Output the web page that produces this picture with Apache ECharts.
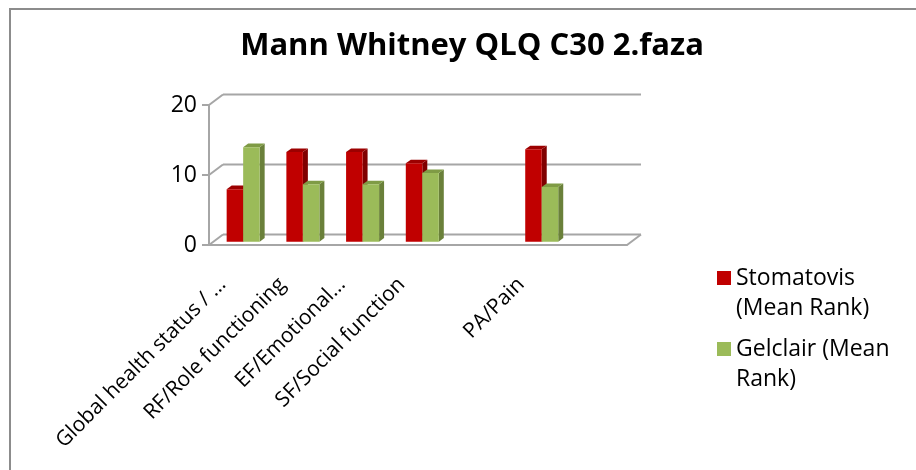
<!DOCTYPE html>
<html>
<head>
<meta charset="utf-8">
<script src="https://cdn.jsdelivr.net/npm/echarts@6/dist/echarts.min.js"></script>
<style>
  html, body { margin: 0; padding: 0; background: #fff; }
  #chart { width: 916px; height: 470px; }
</style>
</head>
<body>
<div id="chart"></div>
<script>
// Categories (two of them are empty slots on the axis)
var categories = [
    'Global health status / …',
    'RF/Role functioning',
    'EF/Emotional…',
    'SF/Social function',
    '',
    'PA/Pain',
    ''
];

// Mean ranks
var stomatovis = [7.5, 12.8, 12.8, 11.2, null, 13.2, null];
var gelclair = [13.5, 8.2, 8.2, 9.8, null, 7.8, null];

var seriesNames = ['Stomatovis\n(Mean Rank)', 'Gelclair (Mean\nRank)'];
var yTicks = [0, 10, 20];

// 3D look: offset of the back wall and of the bars
var WALL_DX = 14, WALL_DY = -10.5;
var BAR_DX = 4.3, BAR_DY = -3.3;
var DEPTH_DX = 5, DEPTH_DY = -3.6;
var BAR_W = 16.5;
var LINE_COLOR = '#a6a6a6';
var FONT = '"Open Sans", sans-serif';

var colors = [
    { front: '#c00000', top: '#9c0000', side: '#800000' },
    { front: '#9bbb59', top: '#7f9b45', side: '#6a803a' }
];

function toPairs(values) {
    var out = [];
    values.forEach(function (v, i) {
        if (v !== null) out.push([i, v]);
    });
    return out;
}

// Walls: side wall diagonals, back wall gridlines, floor edge
function renderFrame(params, api) {
    var cs = params.coordSys;
    var v = api.value(1);
    var y = api.coord([0, v])[1];
    var style = { stroke: LINE_COLOR, lineWidth: 2 };
    var children = [
        { type: 'line', shape: { x1: cs.x, y1: y, x2: cs.x + WALL_DX, y2: y + WALL_DY }, style: style },
        { type: 'line', shape: { x1: cs.x + WALL_DX, y1: y + WALL_DY, x2: cs.x + cs.width + WALL_DX, y2: y + WALL_DY }, style: style }
    ];
    if (v === yTicks[0]) {
        children.push({ type: 'line', shape: { x1: cs.x + cs.width, y1: y, x2: cs.x + cs.width + WALL_DX, y2: y + WALL_DY }, style: style });
    }
    return { type: 'group', children: children };
}

function makeBarRenderer(idx) {
    var c = colors[idx];
    return function (params, api) {
        var cat = api.value(0);
        var val = api.value(1);
        var base = api.coord([cat, 0]);
        var top = api.coord([cat, val]);
        var x0 = base[0] + BAR_DX - BAR_W + idx * BAR_W;
        var x1 = x0 + BAR_W;
        var yb = base[1] + BAR_DY;
        var yt = top[1] + BAR_DY;
        return {
            type: 'group',
            children: [
                { type: 'polygon', shape: { points: [[x1, yt], [x1 + DEPTH_DX, yt + DEPTH_DY], [x1 + DEPTH_DX, yb + DEPTH_DY], [x1, yb]] }, style: { fill: c.side } },
                { type: 'polygon', shape: { points: [[x0, yt], [x0 + DEPTH_DX, yt + DEPTH_DY], [x1 + DEPTH_DX, yt + DEPTH_DY], [x1, yt]] }, style: { fill: c.top } },
                { type: 'rect', shape: { x: x0, y: yt, width: BAR_W, height: yb - yt }, style: { fill: c.front } }
            ]
        };
    };
}

var chart = echarts.init(document.getElementById('chart'), null, { renderer: 'canvas' });

chart.setOption({
    animation: false,
    textStyle: { fontFamily: FONT },

    title: {
        text: 'Mann Whitney QLQ C30 2.faza',
        left: 467,
        top: 26,
        textAlign: 'center',
        textStyle: { fontFamily: FONT, fontSize: 31, fontWeight: 'bold', color: '#000' }
    },

    graphic: [{
        type: 'rect',
        shape: { x: 10, y: 9, width: 1000, height: 1000 },
        style: { fill: 'none', stroke: '#8c8c8c', lineWidth: 2 },
        silent: true
    }],

    legend: {
        orient: 'vertical',
        left: 712,
        top: 228,
        itemWidth: 14,
        itemHeight: 14,
        itemGap: -19,
        icon: 'rect',
        data: seriesNames,
        // empty first line so the swatch sits beside the first text line
        formatter: function (name) { return ' \n' + name; },
        textStyle: { fontFamily: FONT, fontSize: 23, color: '#000', lineHeight: 30 }
    },

    grid: { left: 209, top: 105, width: 418, height: 140 },

    xAxis: {
        type: 'category',
        data: categories,
        axisLine: { show: true, lineStyle: { color: LINE_COLOR, width: 2 } },
        axisTick: { show: false },
        axisLabel: {
            interval: 0,
            rotate: 45,
            margin: 20,
            padding: [0, 23, 0, 0],
            fontFamily: FONT,
            fontSize: 21,
            color: '#000'
        }
    },

    yAxis: {
        type: 'value',
        min: yTicks[0],
        max: yTicks[yTicks.length - 1],
        interval: 10,
        axisLine: { show: true, lineStyle: { color: LINE_COLOR, width: 2 } },
        axisTick: { show: true, length: 7, lineStyle: { color: LINE_COLOR, width: 2 } },
        splitLine: { show: false },
        axisLabel: { margin: 12, fontFamily: FONT, fontSize: 23, color: '#000' }
    },

    series: [
        {
            type: 'custom',
            name: 'frame',
            silent: true,
            z: 1,
            renderItem: renderFrame,
            encode: { x: 0, y: 1 },
            data: yTicks.map(function (v) { return [0, v]; })
        },
        {
            type: 'custom',
            name: seriesNames[0],
            z: 2,
            itemStyle: { color: colors[0].front },
            renderItem: makeBarRenderer(0),
            encode: { x: 0, y: 1 },
            data: toPairs(stomatovis)
        },
        {
            type: 'custom',
            name: seriesNames[1],
            z: 3,
            itemStyle: { color: colors[1].front },
            renderItem: makeBarRenderer(1),
            encode: { x: 0, y: 1 },
            data: toPairs(gelclair)
        }
    ]
});
</script>
</body>
</html>
